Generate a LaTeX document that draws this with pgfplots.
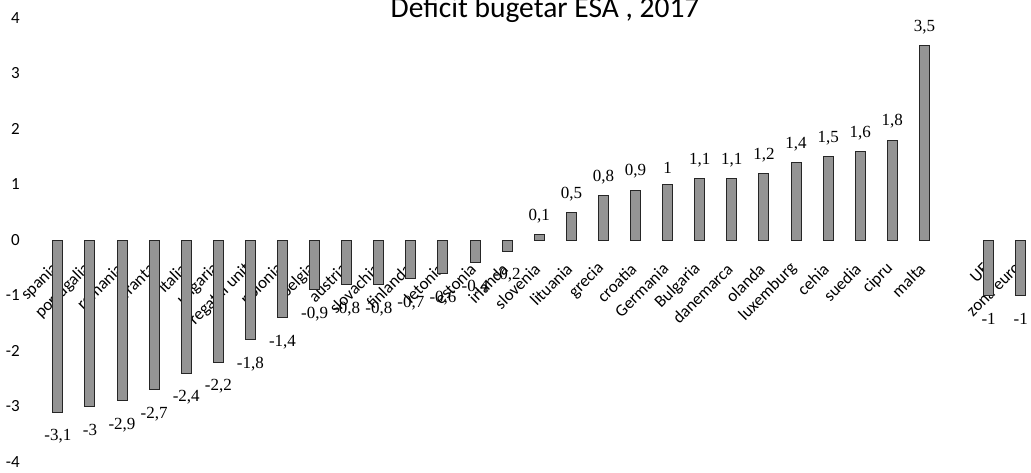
\documentclass[border=0pt]{standalone}
\usepackage{fontspec}
\setmainfont{Carlito}
\newfontfamily\numfont{Liberation Serif}
\usepackage{pgfplots}
\pgfplotsset{compat=1.18}
\usepackage{pgfplotstable}

% deficit bugetar ESA 2017, % din PIB
\pgfplotstableread{
x y
0 -3.1
1 -3
2 -2.9
3 -2.7
4 -2.4
5 -2.2
6 -1.8
7 -1.4
8 -0.9
9 -0.8
10 -0.8
11 -0.7
12 -0.6
13 -0.4
14 -0.2
15 0.1
16 0.5
17 0.8
18 0.9
19 1
20 1.1
21 1.1
22 1.2
23 1.4
24 1.5
25 1.6
26 1.8
27 3.5
29 -1
30 -1
}\deficit

\begin{document}
\begin{tikzpicture}[x=1pt,y=1pt]
\path[use as bounding box] (-28,-10) rectangle (1003,462);
\begin{axis}[
    at={(0,0)}, anchor=south west,
    scale only axis,
    width=1003pt, height=444pt,
    xmin=-0.93, xmax=30.32,
    ymin=-4, ymax=4,
    axis x line*=middle,
    axis y line*=left,
    axis line style={draw=none},
    tick style={draw=none},
    ytick={-4,-3,...,4},
    yticklabel style={font=\fontsize{17}{17}\selectfont, anchor=east, inner xsep=0pt, xshift=-8pt},
    /pgf/number format/assume math mode=true,
    xtick={0,...,27,29,30},
    xticklabels={spania,portugalia,romania,franta,italia,ungaria,regatul unit,polonia,belgia,austria,slovachia,finlanda,letonia,estonia,irlanda,slovenia,lituania,grecia,croatia,Germania,Bulgaria,danemarca,olanda,luxemburg,cehia,suedia,cipru,malta,UE,zona euro},
    xticklabel style={font=\fontsize{17}{17}\selectfont, inner sep=0pt, xshift=-2pt, yshift=-26pt, rotate=45, anchor=east},
    clip=false,
]
\addplot[ybar, bar width=10pt, bar shift=0pt, fill=black!42, draw=black!85, line width=1pt,
    visualization depends on={\thisrow{y} \as \yv},
    nodes near coords={\pgfmathprintnumber[use comma,assume math mode=true]{\pgfplotspointmeta}},
    nodes near coords align={vertical},
    every node near coord/.append style={font=\numfont\fontsize{17}{17}\selectfont, text=black, inner ysep=11pt, yshift={\yv<0 ? -6 : 0}},
] table[x=x, y=y] {\deficit};
\node[font=\fontsize{29.5}{29.5}\selectfont, anchor=base] at (rel axis cs:0.5155,1.002) {Deficit bugetar ESA , 2017};
\end{axis}
\end{tikzpicture}
\end{document}
